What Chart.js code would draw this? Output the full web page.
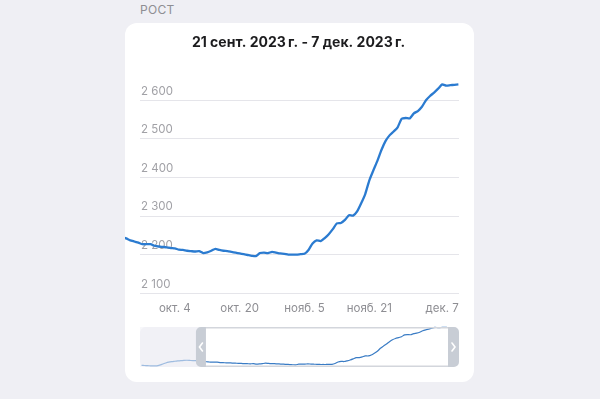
<!DOCTYPE html>
<html>
<head>
<meta charset="utf-8">
<script src="https://cdn.jsdelivr.net/npm/chart.js@4.4.0/dist/chart.umd.min.js"></script>
<style>
    body { margin: 0; width: 600px; height: 399px; background: #efeff4; position: relative; overflow: hidden;
           font-family: Inter, "Noto Sans", sans-serif; }
    #caption { position: absolute; left: 140px; top: 2px; font-size: 12px; color: #8e8e93; letter-spacing: 0.3px; }
    #card { position: absolute; left: 125px; top: 23px; width: 349px; height: 359px; background: #fff;
            border-radius: 12px; overflow: hidden; }
    #mainChart { position: absolute; left: 0; top: 0; }
    #miniChart { position: absolute; left: 0; top: 297px; }
</style>
</head>
<body>
<div id="caption">РОСТ</div>
<div id="card">
    <canvas id="mainChart" width="349" height="293"></canvas>
    <canvas id="miniChart" width="349" height="55"></canvas>
</div>
<script>
const title = '21 сент. 2023\u202Fг. - 7 дек. 2023\u202Fг.';

// day index of first value (0 = first day of the shown window)
const firstDay = -18;
const values = [
    2190, 2188, 2186, 2184, 2183, 2184, 2192, 2205, 2218, 2228, 2234, 2238, 2242, 2245, 2248, 2250, 2248, 2246,
    2246, 2242, 2237, 2234, 2231, 2227, 2227, 2227, 2223, 2221,
    2220, 2219, 2217, 2216, 2213, 2212, 2210, 2209, 2208, 2209,
    2204, 2206, 2210, 2215, 2212, 2210, 2209, 2207, 2205, 2203,
    2201, 2199, 2197, 2196, 2204, 2205, 2204, 2207, 2205, 2203,
    2202, 2200, 2200, 2200, 2201, 2202, 2212, 2229, 2237, 2235,
    2243, 2253, 2266, 2281, 2282, 2290, 2302, 2301, 2312, 2333,
    2357, 2392, 2418, 2443, 2471, 2494, 2509, 2519, 2530, 2552,
    2554, 2553, 2566, 2572, 2583, 2600, 2611, 2620, 2630, 2641,
    2638, 2639, 2640, 2641
];

const tickDays = [13, 29, 45, 61, 79];
const tickLabels = ['окт. 4', 'окт. 20', 'нояб. 5', 'нояб. 21', 'дек. 7'];
const yTicks = [2100, 2200, 2300, 2400, 2500, 2600];

// visible window of the main chart and of the navigator
const viewFrom = 4.4, viewTo = 83.15;
const navFrom = -18.5, navTo = 87;
const selFrom = 0;

const points = values.map((v, i) => ({ x: firstDay + i, y: v }));

function spaced(v) {
    return String(v).replace(/\B(?=(\d{3})+(?!\d))/g, ' ');
}

Chart.defaults.font.family = 'Inter, "Noto Sans", sans-serif';
Chart.defaults.animation = false;

new Chart(document.getElementById('mainChart'), {
    type: 'line',
    data: {
        datasets: [{
            data: points,
            borderColor: '#2b7bd0',
            borderWidth: 2.3,
            pointRadius: 0,
            tension: 0.2,
            borderJoinStyle: 'round',
            clip: false
        }]
    },
    options: {
        responsive: false,
        layout: { padding: { left: 13, right: 15, top: 0, bottom: 1 } },
        plugins: {
            legend: { display: false },
            tooltip: { enabled: false },
            title: {
                display: true,
                text: title,
                color: '#1c1c1e',
                font: { size: 14, weight: 'bold' },
                padding: { top: 11.2, bottom: 26.1 }
            }
        },
        scales: {
            x: {
                type: 'linear',
                bounds: 'data',
                grid: { display: false },
                border: { display: false },
                afterDataLimits: function(s) { s.min = viewFrom; s.max = viewTo; },
                afterBuildTicks: function(s) { s.ticks = tickDays.map(v => ({ value: v })); },
                ticks: {
                    autoSkip: false,
                    maxRotation: 0,
                    padding: 0,
                    color: '#8e8e93',
                    font: { size: 11.5 },
                    callback: function(v, i) { return tickLabels[i]; }
                }
            },
            y: {
                min: 2100,
                max: 2660,
                border: { display: false },
                grid: { color: '#e5e5ea', drawTicks: false },
                afterBuildTicks: function(s) { s.ticks = yTicks.map(v => ({ value: v })); },
                ticks: {
                    mirror: true,
                    padding: 1,
                    labelOffset: -9,
                    color: '#a1a1a6',
                    font: { size: 11.5 },
                    callback: function(v) { return spaced(v); }
                }
            }
        }
    }
});

// navigator: shaded part, frame and the two handles
const navigator = {
    id: 'navigator',
    beforeDatasetsDraw(chart) {
        const a = chart.chartArea, ctx = chart.ctx;
        const sx = chart.scales.x.getPixelForValue(selFrom);
        ctx.save();
        ctx.fillStyle = '#f1f1f6';
        ctx.beginPath();
        ctx.roundRect(a.left, a.top, sx - a.left + 4, a.bottom - a.top, [6, 0, 0, 6]);
        ctx.fill();
        ctx.restore();
    },
    afterDatasetsDraw(chart) {
        const a = chart.chartArea, ctx = chart.ctx;
        const sx = chart.scales.x.getPixelForValue(selFrom);
        const h = a.bottom - a.top;
        ctx.save();
        ctx.fillStyle = 'rgba(241,241,246,0.55)';
        ctx.fillRect(a.left, a.top, sx - a.left, h);

        ctx.strokeStyle = '#d3d6dc';
        ctx.lineWidth = 1.5;
        ctx.beginPath();
        ctx.moveTo(sx + 10, a.top + 0.75); ctx.lineTo(a.right - 11, a.top + 0.75);
        ctx.moveTo(sx + 10, a.bottom - 0.75); ctx.lineTo(a.right - 11, a.bottom - 0.75);
        ctx.stroke();

        ctx.fillStyle = '#c8cdd5';
        ctx.beginPath();
        ctx.roundRect(sx, a.top, 10, h, [5, 0, 0, 5]);
        ctx.roundRect(a.right - 11, a.top, 11, h, [0, 5, 5, 0]);
        ctx.fill();

        const cy = a.top + h / 2;
        ctx.strokeStyle = '#ffffff';
        ctx.lineWidth = 1.6;
        ctx.lineCap = 'round';
        ctx.beginPath();
        ctx.moveTo(sx + 6.5, cy - 4); ctx.lineTo(sx + 3.5, cy); ctx.lineTo(sx + 6.5, cy + 4);
        ctx.moveTo(a.right - 7, cy - 4); ctx.lineTo(a.right - 4, cy); ctx.lineTo(a.right - 7, cy + 4);
        ctx.stroke();
        ctx.restore();
    }
};

new Chart(document.getElementById('miniChart'), {
    type: 'line',
    data: {
        datasets: [{
            data: points,
            borderColor: '#3a7cc5',
            borderWidth: 1.2,
            pointRadius: 0,
            tension: 0.2,
            clip: false
        }]
    },
    options: {
        responsive: false,
        layout: { padding: { left: 15, right: 15, top: 7, bottom: 8 } },
        plugins: {
            legend: { display: false },
            tooltip: { enabled: false }
        },
        scales: {
            x: { type: 'linear', display: false, min: navFrom, max: navTo },
            y: { display: false, min: 2170, max: 2645 }
        }
    },
    plugins: [navigator]
});
</script>
</body>
</html>
